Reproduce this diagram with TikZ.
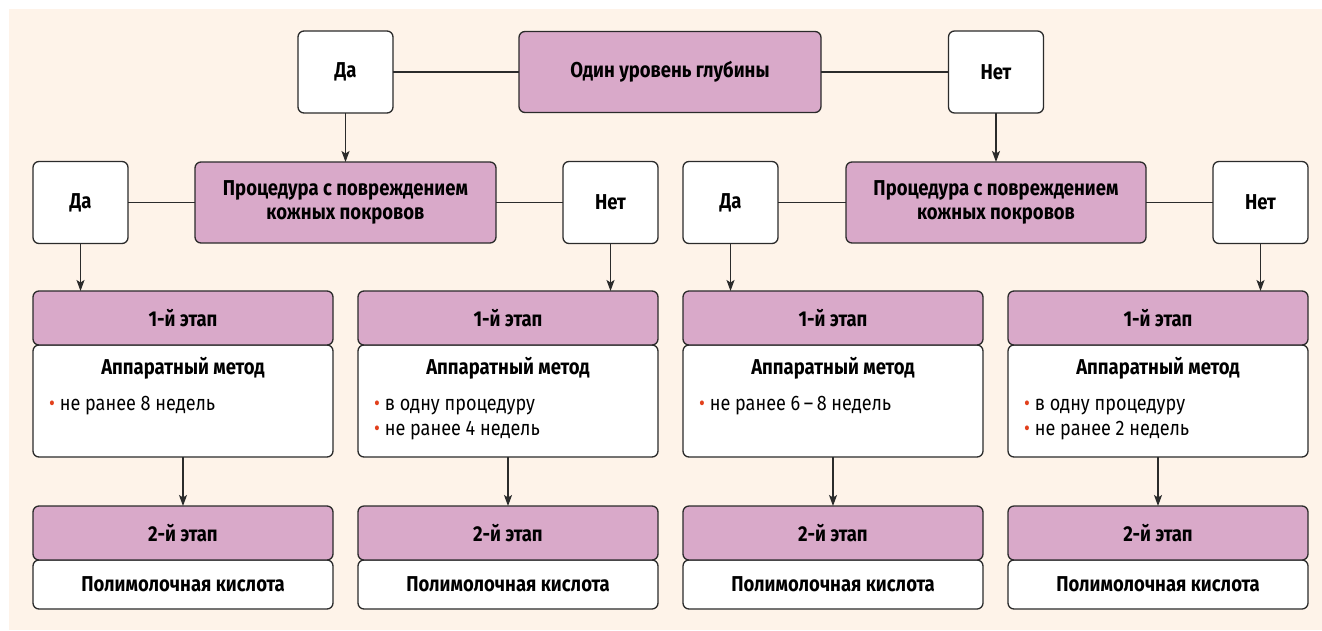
\documentclass[tikz,border=0pt]{standalone}
\usepackage{fontspec}
\setmainfont{Fira Sans}[FakeStretch=0.86]
\usetikzlibrary{arrows.meta}
\definecolor{bg}{HTML}{FEF3E9}
\definecolor{pinkc}{HTML}{D9A9C9}
\definecolor{linec}{HTML}{2B2B2B}
\definecolor{bulc}{HTML}{E2401C}
\newcommand\bul{\textcolor{bulc}{\textbullet}\hspace{5pt}}
\begin{document}
\begin{tikzpicture}[x=1pt,y=-1pt,
 every node/.style={inner sep=0pt, outer sep=0pt, text=black, font=\fontsize{21.5}{24}\selectfont\bfseries},
 box/.style={draw=linec, line width=1.3pt, rounded corners=6pt, align=center},
 wbox/.style={box, fill=white},
 pbox/.style={box, fill=pinkc},
 yn/.style={wbox, minimum width=95pt, minimum height=82pt},
 qbox/.style={pbox, minimum width=301pt, minimum height=81pt},
 hdr/.style={pbox, minimum width=300pt, minimum height=54pt},
 body1/.style={wbox, minimum width=300pt, minimum height=112pt},
 body2/.style={wbox, minimum width=300pt, minimum height=49pt},
 conn/.style={draw=linec, line width=1.3pt},
 arr/.style={conn, -{Stealth[length=11pt,width=8pt,inset=2.5pt]}},
 itemtxt/.style={anchor=base west, font=\fontsize{21}{24}\selectfont},
 ]
\useasboundingbox (0,0) rectangle (1322,630);
\fill[bg] (9,9) rectangle (1322,630);

% top row
\node[yn] (da0) at (345.5,72) {Да};
\node[qbox, minimum width=302pt] (q0) at (670,72) {Один уровень глубины};
\node[yn] (net0) at (996,72) {Нет};
\draw[conn] (da0.east) -- (q0.west);
\draw[conn] (q0.east) -- (net0.west);

% second row
\node[yn] (da1) at (80.5,202.5) {Да};
\node[qbox] (q1) at (345.5,202.5) {Процедура с повреждением\\кожных покровов};
\node[yn] (net1) at (610.5,202.5) {Нет};
\node[yn] (da2) at (730.5,202.5) {Да};
\node[qbox, minimum width=300pt] (q2) at (996,202.5) {Процедура с повреждением\\кожных покровов};
\node[yn] (net2) at (1260.5,202.5) {Нет};
\draw[conn] (da1.east) -- (q1.west);
\draw[conn] (q1.east) -- (net1.west);
\draw[conn] (da2.east) -- (q2.west);
\draw[conn] (q2.east) -- (net2.west);
\draw[arr] (da0.south) -- (q1.north);
\draw[arr] (net0.south) -- (q2.north);

% stages
\foreach \i/\cx in {1/183,2/508,3/833,4/1158}{
  \node[body1] (b\i) at (\cx,401) {};
  \node[hdr] (h\i) at (\cx,318) {1-й этап};
  \node (m\i) at (\cx,368) {Аппаратный метод};
  \node[body2] (c\i) at (\cx,584.5) {Полимолочная кислота};
  \node[hdr] (g\i) at (\cx,533) {2-й этап};
  \draw[arr] (b\i.south) -- (g\i.north);
}
\node[itemtxt] (t1a) at (49,410) {\bul не ранее 8 недель};
\node[itemtxt] (t2a) at (374,410) {\bul в одну процедуру};
\node[itemtxt] (t2b) at (374,435) {\bul не ранее 4 недель};
\node[itemtxt] (t3a) at (699,410) {\bul не ранее 6\,–\,8 недель};
\node[itemtxt] (t4a) at (1024,410) {\bul в одну процедуру};
\node[itemtxt] (t4b) at (1024,435) {\bul не ранее 2 недель};

\draw[arr] (da1.south) -- (da1.south |- h1.north);
\draw[arr] (net1.south) -- (net1.south |- h2.north);
\draw[arr] (da2.south) -- (da2.south |- h3.north);
\draw[arr] (net2.south) -- (net2.south |- h4.north);
\end{tikzpicture}
\end{document}
